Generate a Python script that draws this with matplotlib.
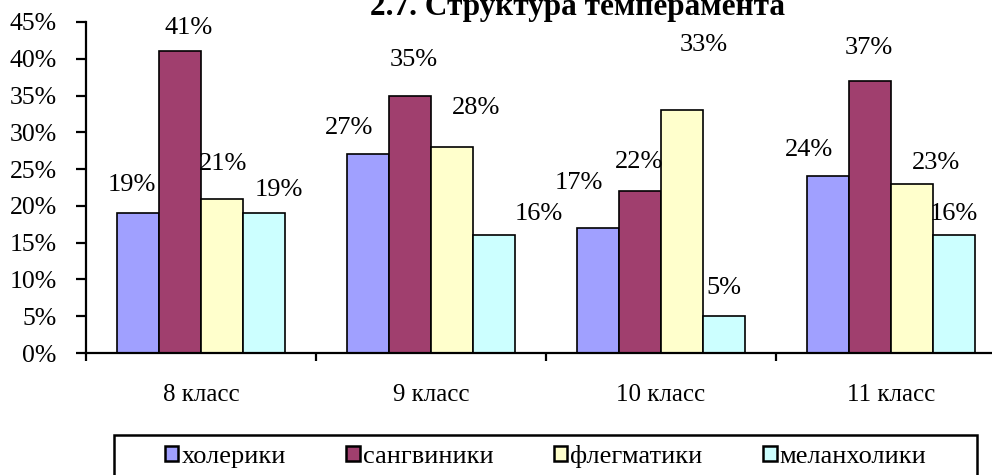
import numpy as np
import matplotlib.pyplot as plt
from matplotlib.patches import Rectangle
from matplotlib.ticker import PercentFormatter, FixedLocator

classes = ['8 класс', '9 класс', '10 класс', '11 класс']
series = ['холерики', 'сангвиники', 'флегматики', 'меланхолики']
holeriki = [19, 27, 17, 24]
sangviniki = [41, 35, 22, 37]
flegmatiki = [21, 28, 33, 23]
melanholiki = [19, 16, 5, 16]
colors = ['#A0A0FF', '#A03F6E', '#FFFFCC', '#CCFFFF']

# label nudges in pixels (dx, dy) per series, per class -- the labels in the
# original are not centred over their bars
label_nudge = [
    [(-6, 28), (-19, 26), (-19, 45), (-19, 26)],
    [(9, 23), (4, 36), (-1, 29), (-1, 33)],
    [(1, 35), (24, 39), (22, 65), (24, 21)],
    [(15, 23), (45, 21), (0, 28), (0, 21)],
]

plt.rcParams['font.family'] = ['Liberation Serif', 'DejaVu Serif']

fig = plt.figure(figsize=(9.92, 4.75), dpi=100)
ax = fig.add_axes([86 / 992, 1 - 353 / 475, 920 / 992, 331 / 475])

x = np.arange(len(classes))
w = 1 / 5.5
for i, (name, vals) in enumerate(zip(series, [holeriki, sangviniki, flegmatiki, melanholiki])):
    bars = ax.bar(x + (i - 1.5) * w, vals, w, color=colors[i],
                  edgecolor='black', linewidth=1.2, label=name)
    for j, (b, v) in enumerate(zip(bars, vals)):
        ax.annotate(f'{v}%', (b.get_x() + b.get_width() / 2, v),
                    xytext=label_nudge[i][j], textcoords='offset pixels',
                    ha='center', va='center', fontsize=19)

ax.set_xlim(-0.5, 3.5)
ax.set_ylim(0, 45)
ax.set_yticks(np.arange(0, 46, 5))
ax.yaxis.set_major_formatter(PercentFormatter(decimals=0))
ax.set_xticks(x)
ax.set_xticklabels(classes)
ax.xaxis.set_minor_locator(FixedLocator([-0.5, 0.5, 1.5, 2.5, 3.5]))
ax.tick_params(axis='x', which='major', length=0, pad=22, labelsize=18)
ax.tick_params(axis='x', which='minor', length=6, width=1.6, direction='out')
ax.tick_params(axis='y', length=7, width=1.6, direction='out', labelsize=18.5, pad=14)
for s in ['top', 'right']:
    ax.spines[s].set_visible(False)
for s in ['left', 'bottom']:
    ax.spines[s].set_linewidth(1.6)

fig.text(577 / 992, 1 - 15 / 475, '2.7. Структура темперамента',
         ha='center', va='baseline', fontsize=22.5, fontweight='bold')

# legend box sits at the bottom, cut by the figure edge
fig.patches.append(Rectangle((114 / 992, 1 - 485 / 475), 863 / 992, 50 / 475,
                             transform=fig.transFigure, fill=False,
                             edgecolor='black', linewidth=1.8))
leg = fig.legend(loc='upper left', bbox_to_anchor=(165 / 992, 1 - 445 / 475),
                 ncol=4, fontsize=19, frameon=False,
                 handlelength=0.5, handleheight=0.5,
                 handletextpad=0.12, columnspacing=2.3, borderpad=0,
                 borderaxespad=0)
for h in leg.legend_handles:
    h.set_linewidth(1.8)

fig.savefig('out.png', dpi=100)
